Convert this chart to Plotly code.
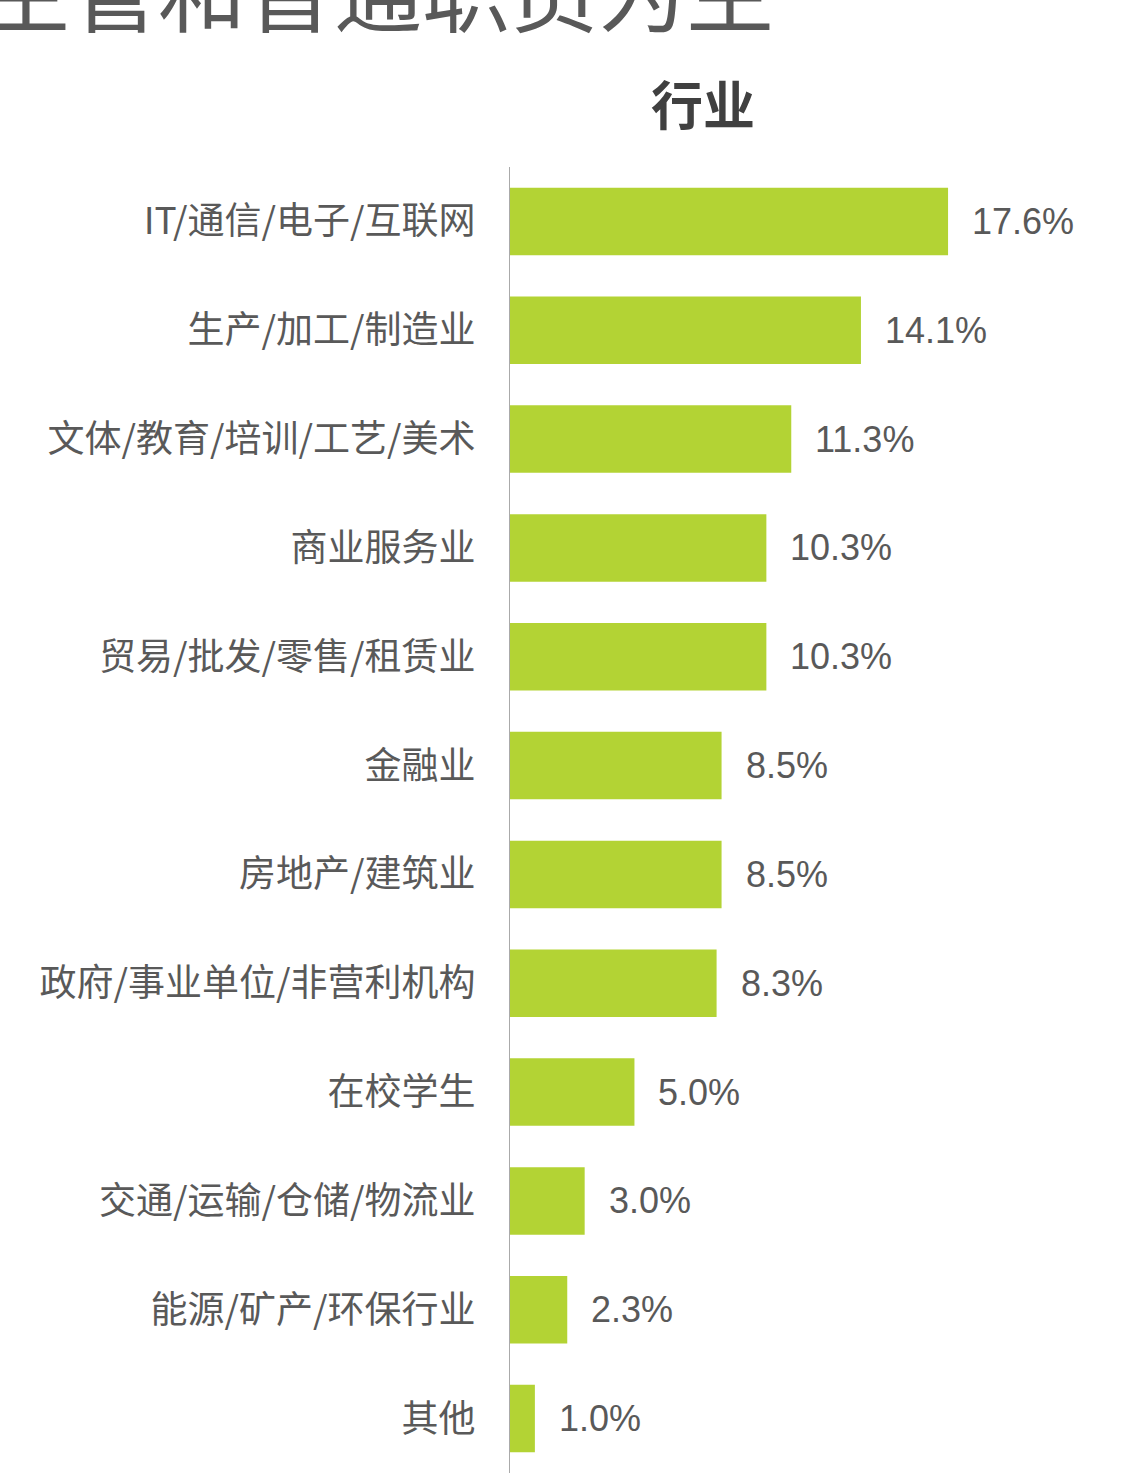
import plotly.graph_objects as go

categories = ["IT/通信/电子/互联网", "生产/加工/制造业", "文体/教育/培训/工艺/美术", "商业服务业",
              "贸易/批发/零售/租赁业", "金融业", "房地产/建筑业", "政府/事业单位/非营利机构",
              "在校学生", "交通/运输/仓储/物流业", "能源/矿产/环保行业", "其他"]
values = [17.6, 14.1, 11.3, 10.3, 10.3, 8.5, 8.5, 8.3, 5.0, 3.0, 2.3, 1.0]
value_labels = [f"{v:.1f}%" for v in values]
chart_title = "行业"
page_title = "主管和普通职员为主"

W, H = 1121, 1478
L, R, T, B = 510, 0, 167, 5
pw, ph = W - L - R, H - T - B

fig = go.Figure(go.Bar(
    x=values, y=categories, orientation="h",
    marker=dict(color="#B3D334", line=dict(width=0)),
    width=0.62, hoverinfo="skip",
))

annotations = []
for c, v, lab in zip(categories, values, value_labels):
    annotations.append(dict(x=v, y=c, xref="x", yref="y", text=lab, showarrow=False,
                            xanchor="left", yanchor="middle", xshift=22,
                            font=dict(family="Liberation Sans, Arial", size=36, color="#595959")))
annotations.append(dict(x=(703 - L) / pw, y=(H - B - 102) / ph, xref="paper", yref="paper",
                        text=f"<b>{chart_title}</b>", showarrow=False, xanchor="center", yanchor="middle",
                        font=dict(family="Noto Sans CJK SC", size=52, color="#404040")))
annotations.append(dict(x=(776 - L) / pw, y=(H - B + 14) / ph, xref="paper", yref="paper",
                        text=page_title, showarrow=False, xanchor="right", yanchor="middle",
                        font=dict(family="Noto Sans CJK SC", size=88, color="#595959")))

fig.update_layout(
    width=W, height=H,
    margin=dict(l=L, r=R, t=T, b=B, pad=0),
    paper_bgcolor="white", plot_bgcolor="white",
    showlegend=False, bargap=0.38,
    annotations=annotations,
    xaxis=dict(range=[0, pw / 24.89], visible=False, fixedrange=True),
    yaxis=dict(autorange="reversed", showline=True, linecolor="#AAAAAA", linewidth=1,
               ticks="", showgrid=False, ticklabelstandoff=26,
               tickfont=dict(family="Noto Sans CJK SC", size=37, color="#595959")),
)

fig.write_html("out.html")
